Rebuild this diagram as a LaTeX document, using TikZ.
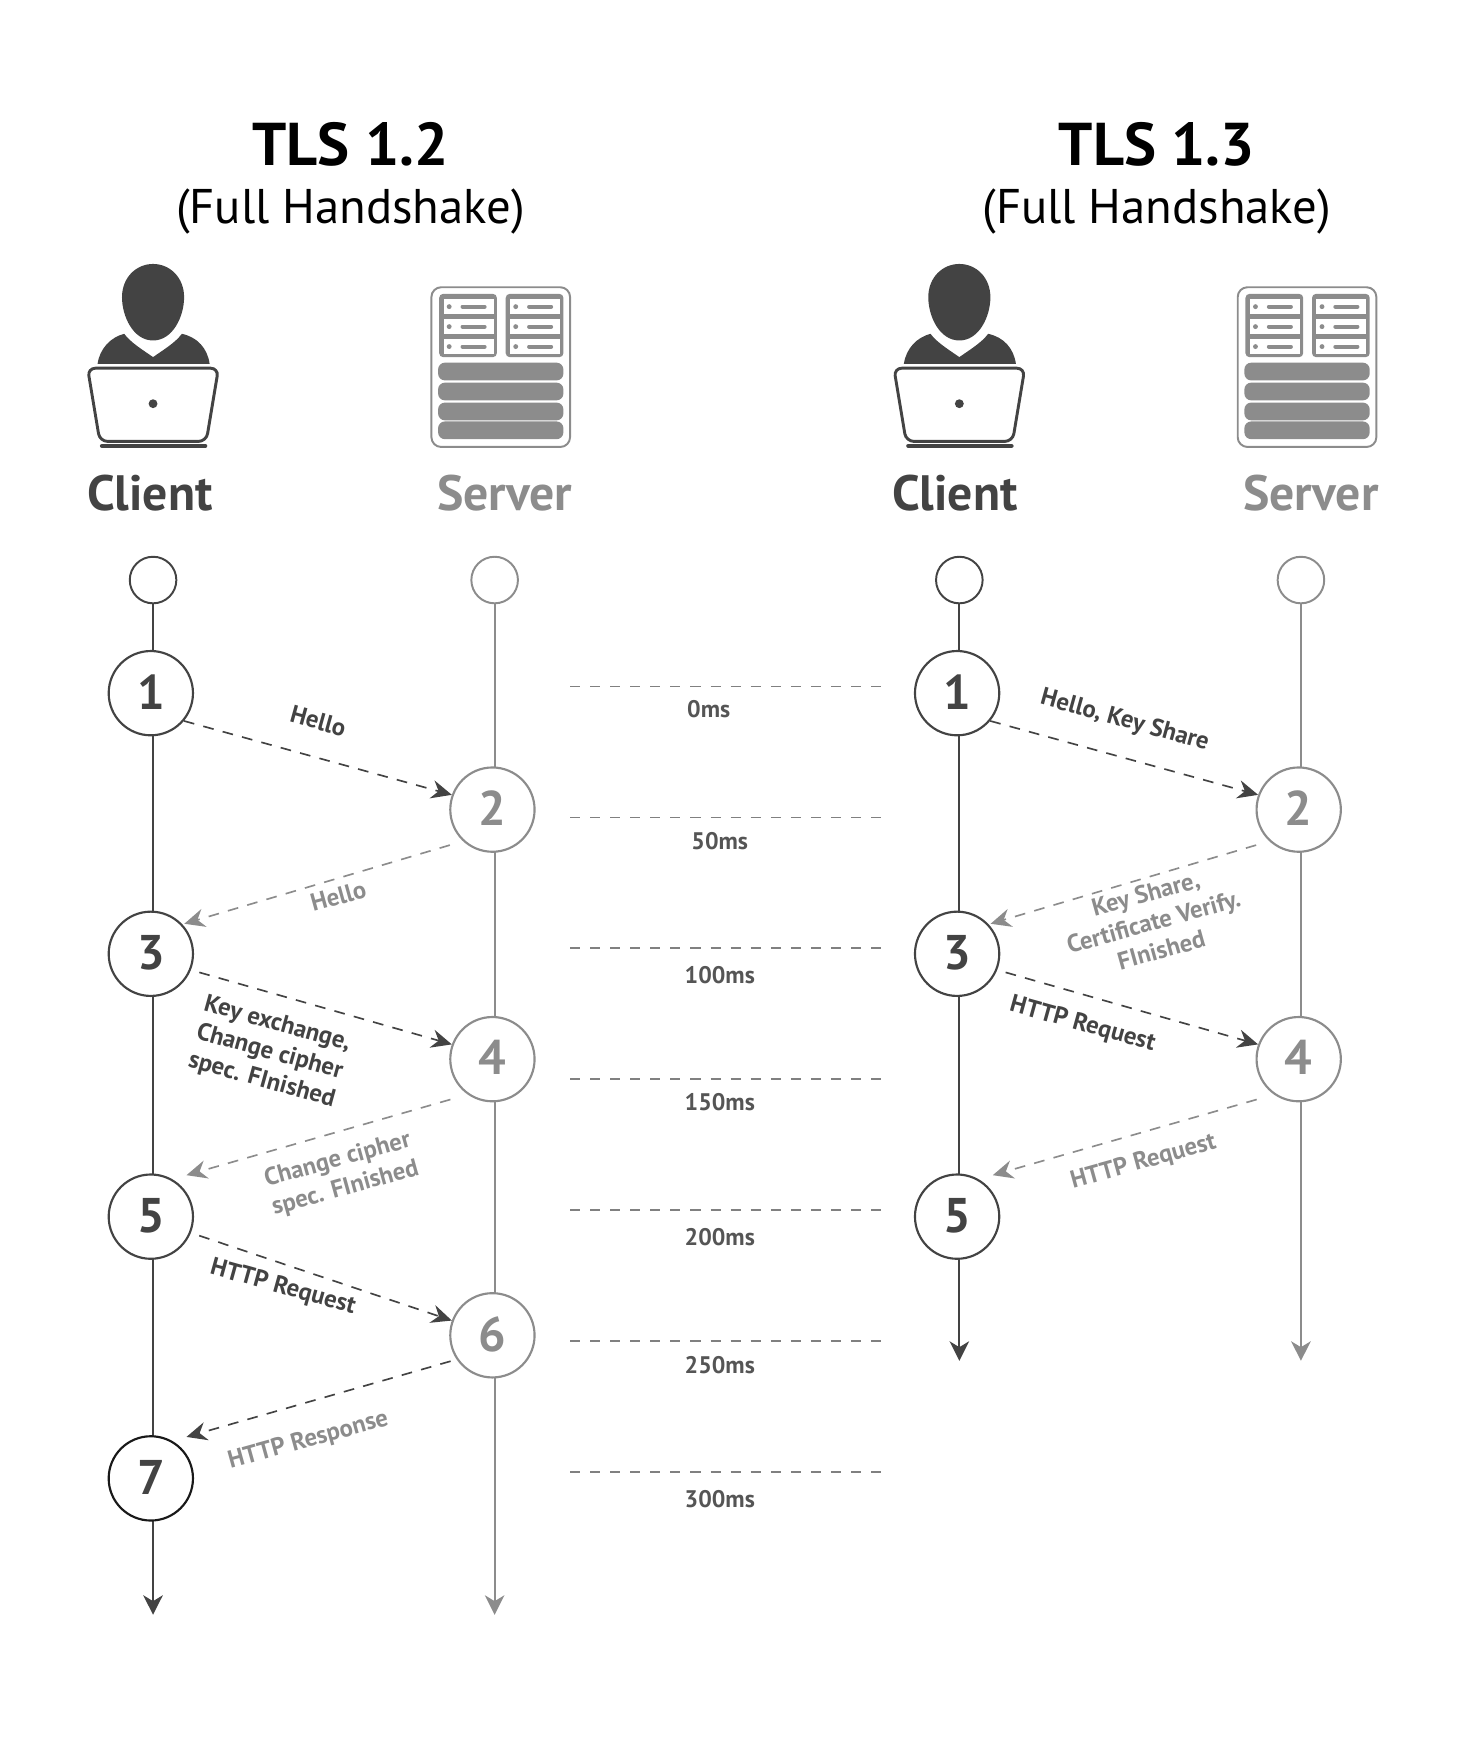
\documentclass[tikz,border=0pt]{standalone}
\usepackage{fontspec}
\setmainfont{PT Sans}
\usetikzlibrary{positioning}
\usetikzlibrary{arrows.meta}
\definecolor{mydark}{RGB}{67,67,67}
\definecolor{mygrey}{RGB}{140,140,140}
\definecolor{mymid}{RGB}{128,128,128}
\definecolor{mytime}{RGB}{85,85,85}

\begin{document}
\begin{tikzpicture}[x=0.02cm,y=-0.02cm,
title/.style={font=\bfseries\fontsize{31}{34}\selectfont,text=black},
subtitle/.style={font=\fontsize{25}{28}\selectfont,text=black},
role/.style={font=\bfseries\fontsize{25.5}{28}\selectfont},
start/.style={circle,draw,line width=1pt,minimum size=42*0.02cm,inner sep=0pt,fill=white},
stepc/.style={circle,draw=mydark,text=mydark,line width=1.1pt,minimum size=76*0.02cm,inner sep=0pt,fill=white,text depth=1.4pt,font=\bfseries\fontsize{25}{28}\selectfont},
steps/.style={stepc,draw=mygrey,text=mygrey},
lifec/.style={draw=mydark,line width=1.1pt,-{Stealth[length=10pt,width=10pt,inset=3pt]}},
lifes/.style={lifec,draw=mygrey},
msgc/.style={draw=mydark,line width=0.85pt,dash pattern=on 5.5pt off 4.8pt,-{Stealth[length=10.5pt,width=9.5pt,inset=3.5pt]}},
msgs/.style={msgc,draw=mygrey},
labc/.style={text=mydark,font=\bfseries\fontsize{12.7}{15}\selectfont,align=center},
labs/.style={labc,text=mygrey},
tick/.style={draw=mymid,line width=0.85pt,dash pattern=on 5.15pt off 5.15pt},
msl/.style={text=mytime,font=\bfseries\fontsize{12.3}{14}\selectfont},
clienticon/.pic={
  \fill[mydark] (138,307) .. controls (120,307) and (110,285) .. (110,268) .. controls (110,250) and (123,238) .. (138,238) .. controls (153,238) and (166,250) .. (166,268) .. controls (166,285) and (156,307) .. (138,307) -- cycle;
  \fill[mydark] (88,328) .. controls (90,314) and (100,304) .. (112,301) .. controls (118,309) and (128,315) .. (138,322) .. controls (148,315) and (158,309) .. (164,301) .. controls (178,304) and (187,314) .. (189,328) -- cycle;
  \draw[mydark,line width=1.5pt,rounded corners=4pt] (79,332) -- (197,332) -- (186,398) -- (90,398) -- cycle;
  \fill[mydark] (138,364) circle (4);
  \draw[mydark,line width=2.2pt,line cap=round] (92,402) -- (185,402);
},
servericon/.pic={
  \draw[mygrey,line width=1pt,rounded corners=5pt] (389,259) rectangle (514,403);
  \foreach \xa in {396,456} {
    \fill[mygrey,rounded corners=2pt] (\xa,265) rectangle +(52,57);
    \foreach \ya in {270,288,306} {
      \fill[white] (\xa+4,\ya) rectangle +(45,13);
      \fill[mygrey] (\xa+9,\ya+6.5) circle (2.2);
      \draw[mygrey,line width=2pt,line cap=round] (\xa+21,\ya+6.5) -- +(20,0);
    }
  }
  \foreach \ya in {327,345,363,380} {
    \fill[mygrey,rounded corners=3.5pt] (395,\ya) rectangle +(113,16);
  }
},
]
\useasboundingbox (0,0) rectangle (1332,1568);

\node[title] (t12) at (316,130) {TLS 1.2};
\node[subtitle] (s12) at (316,191) {(Full Handshake)};
\node[title] (t13) at (1043,130) {TLS 1.3};
\node[subtitle] (s13) at (1043,191) {(Full Handshake)};

\pic (ci1) at (0,0) {clienticon};
\pic (si1) at (0,0) {servericon};
\pic (ci2) at (727,0) {clienticon};
\pic (si2) at (727,0) {servericon};

\node[role,text=mydark] (cl1) at (135,445) {Client};
\node[role,text=mygrey] (sr1) at (455,445) {Server};
\node[role,text=mydark] (cl2) at (861,445) {Client};
\node[role,text=mygrey] (sr2) at (1182,445) {Server};

% timelines
\node[start,draw=mydark] (a0) at (138,523) {};
\node[start,draw=mygrey] (b0) at (446,523) {};
\node[start,draw=mydark] (p0) at (865,523) {};
\node[start,draw=mygrey] (q0) at (1173,523) {};
\coordinate (aend) at (138,1456);
\coordinate (bend) at (446,1456);
\coordinate (pend) at (865,1227);
\coordinate (qend) at (1173,1227);
\draw[lifec] (a0) -- (aend);
\draw[lifes] (b0) -- (bend);
\draw[lifec] (p0) -- (pend);
\draw[lifes] (q0) -- (qend);

% left steps
\node[stepc] (a1) at (136,625) {1};
\node[steps] (b2) at (444,730) {2};
\node[stepc] (a3) at (136,860) {3};
\node[steps] (b4) at (444,955) {4};
\node[stepc] (a5) at (136,1097) {5};
\node[steps] (b6) at (444,1204) {6};
\node[stepc,draw=black!90] (a7) at (136,1333) {7};

% right steps
\node[stepc] (p1) at (863,625) {1};
\node[steps] (q2) at (1171,730) {2};
\node[stepc] (p3) at (863,860) {3};
\node[steps] (q4) at (1171,955) {4};
\node[stepc] (p5) at (863,1097) {5};

% messages
\draw[msgc] (a1.-40) -- (b2.160);
\draw[msgs,shorten <=7pt,shorten >=1pt] (b2.-133) -- (a3.43);
\draw[msgc,shorten <=4.5pt] (a3.-22) -- (b4.160);
\draw[msgs,shorten <=9.2pt,shorten >=7.5pt] (b4.-125) -- (a5.60);
\draw[msgc,shorten <=4.5pt] (a5.-22) -- (b6.160);
\draw[msgc,shorten <=3.2pt,shorten >=7.5pt] (b6.-146) -- (a7.60);
\draw[msgc] (p1.-40) -- (q2.160);
\draw[msgs,shorten <=7pt,shorten >=1pt] (q2.-133) -- (p3.43);
\draw[msgc,shorten <=4.5pt] (p3.-22) -- (q4.160);
\draw[msgs,shorten <=9.2pt,shorten >=7.5pt] (q4.-125) -- (p5.60);

\node[labc,rotate=-15.5] (h1) at (287,650) {Hello};
\node[labs,rotate=15.5] (h2) at (305,808) {Hello};
\node[labc,rotate=-15.5] (h3) at (243,949) {Key exchange,\\Change cipher\\spec. FInished};
\node[labs,rotate=15.5] (h4) at (308,1059) {Change cipher\\spec. FInished};
\node[labc,rotate=-15.5] (h5) at (255,1161) {HTTP Request};
\node[labs,rotate=15.5] (h6) at (278,1299) {HTTP Response};
\node[labc,rotate=-15.5] (k1) at (1014,650) {Hello, Key Share};
\node[labs,rotate=15.5] (k2) at (1040,831) {Key Share,\\Certificate Verify.\\FInished};
\node[labc,rotate=-15.5] (k3) at (976,924) {HTTP Request};
\node[labs,rotate=15.5] (k4) at (1031,1048) {HTTP Request};

% time scale
\foreach \nm/\ya/\xb/\yb/\tx in {m0/619/639/639/0ms,m1/737/649/758/50ms,m2/855/649/879/100ms,m3/973/649/994/150ms,m4/1091/649/1115/200ms,m5/1209/649/1231/250ms,m6/1327/649/1352/300ms} {
  \coordinate (\nm l) at (514,\ya);
  \coordinate (\nm r) at (795,\ya);
  \draw[tick] (\nm l) -- (\nm r);
  \node[msl] (\nm) at (\xb,\yb) {\tx};
}
\end{tikzpicture}
\end{document}
